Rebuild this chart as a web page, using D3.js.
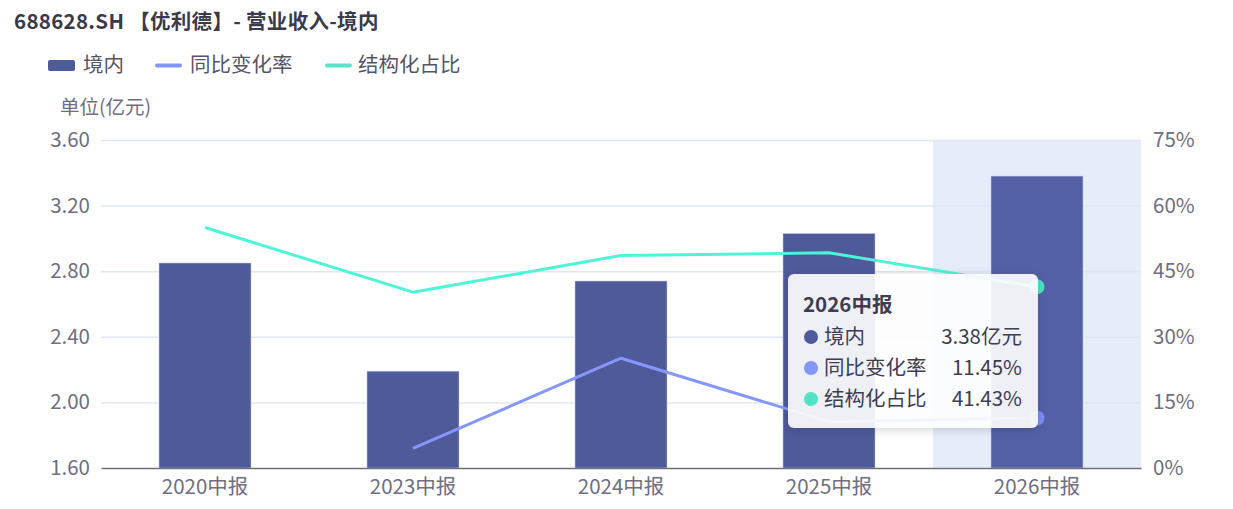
<!DOCTYPE html>
<html><head><meta charset="utf-8">
<script src="https://cdn.jsdelivr.net/npm/d3@7"></script>
<style>
html,body{margin:0;padding:0;background:#fff;}
svg{display:block;font-family:"Noto Sans CJK SC","Noto Sans",sans-serif;}
</style></head>
<body>
<svg id="c" width="1233" height="509"></svg>
<script>
const title = "688628.SH 【优利德】- 营业收入-境内";
const categories = ["2020中报","2023中报","2024中报","2025中报","2026中报"];
const revenue = [2.85, 2.19, 2.74, 3.03, 3.38];
const yoy = [null, 4.5, 25.1, 10.6, 11.45];
const share = [55.0, 40.2, 48.6, 49.2, 41.43];
const leftTicks = [1.6, 2.0, 2.4, 2.8, 3.2, 3.6];
const rightTicks = [0, 15, 30, 45, 60, 75];
const seriesNames = ["境内","同比变化率","结构化占比"];
const unitLabel = "单位(亿元)";
const hoverIndex = 4;

const W = 1233, H = 509;
const m = {left:101, right:92, top:140, bottom:41};
const svg = d3.select("#c");
const C = {bar:"#4e5a9a", barHi:"#5360a6", yoy:"#8598fa", share:"#4ff3d7",
  grid:"#e0e6f1", axis:"#6e7079", text:"#6e6e80", title:"#3a3a4a"};
const FS = 20.5;

const x = d3.scaleBand().domain(categories).range([m.left, W-m.right]).paddingInner(0).paddingOuter(0);
const yL = d3.scaleLinear().domain([leftTicks[0], leftTicks[leftTicks.length-1]]).range([H-m.bottom, m.top]);
const yR = d3.scaleLinear().domain([rightTicks[0], rightTicks[rightTicks.length-1]]).range([H-m.bottom, m.top]);

// title
svg.append("text").attr("x",14).attr("y",29).attr("font-size",20.5).attr("font-weight","bold")
  .attr("letter-spacing",0.3).attr("fill",C.title).text(title);

// legend
const lg = svg.append("g").attr("font-size",FS).attr("fill","#555566");
lg.append("rect").attr("x",48).attr("y",60).attr("width",27).attr("height",11).attr("rx",2).attr("fill",C.bar);
lg.append("text").attr("x",83).attr("y",65).attr("dy","0.35em").text(seriesNames[0]);
lg.append("line").attr("x1",157).attr("x2",180).attr("y1",65.5).attr("y2",65.5).attr("stroke","#8196f8").attr("stroke-width",4).attr("stroke-linecap","round");
lg.append("text").attr("x",190).attr("y",65).attr("dy","0.35em").text(seriesNames[1]);
lg.append("line").attr("x1",327).attr("x2",350).attr("y1",65.5).attr("y2",65.5).attr("stroke","#5ae2ca").attr("stroke-width",4).attr("stroke-linecap","round");
lg.append("text").attr("x",358).attr("y",65).attr("dy","0.35em").text(seriesNames[2]);

// unit label
svg.append("text").attr("x",60).attr("y",107).attr("dy","0.35em").attr("font-size",19.5).attr("fill",C.text).text(unitLabel);

// hover band
svg.append("rect").attr("x",x(categories[hoverIndex])).attr("y",m.top)
  .attr("width",x.bandwidth()).attr("height",H-m.bottom-m.top).attr("fill","#e5ecfa");

// grid
svg.append("g").selectAll("line").data(leftTicks.slice(1)).join("line")
  .attr("x1",m.left).attr("x2",W-m.right).attr("y1",d=>yL(d)+0.5).attr("y2",d=>yL(d)+0.5)
  .attr("stroke",C.grid).attr("stroke-width",1.5);

// left axis
const axL = d3.axisLeft(yL).tickValues(leftTicks).tickFormat(d3.format(".2f")).tickSize(0).tickPadding(11);
const gL = svg.append("g").attr("transform",`translate(${m.left},0)`).call(axL);
gL.select(".domain").remove();
gL.selectAll("text").attr("font-size",FS).attr("fill",C.text).attr("font-family","'Noto Sans CJK SC',sans-serif");

// right axis
const axR = d3.axisRight(yR).tickValues(rightTicks).tickFormat(d=>d+"%").tickSize(0).tickPadding(12);
const gR = svg.append("g").attr("transform",`translate(${W-m.right},0)`).call(axR);
gR.select(".domain").remove();
gR.selectAll("text").attr("font-size",FS).attr("fill",C.text).attr("font-family","'Noto Sans CJK SC',sans-serif");

// bars
const bw = 92;
svg.append("g").selectAll("rect").data(revenue).join("rect")
  .attr("x",(d,i)=>x(categories[i])+x.bandwidth()/2-bw/2)
  .attr("y",d=>yL(d)).attr("width",bw).attr("height",d=>yL(leftTicks[0])-yL(d))
  .attr("fill",(d,i)=>i===hoverIndex?C.barHi:C.bar)
  .attr("stroke","rgba(200,206,235,0.55)").attr("stroke-width",1);

// bottom axis
const axB = d3.axisBottom(x).tickSize(0).tickPadding(11);
const gB = svg.append("g").attr("transform",`translate(0,${H-m.bottom})`).call(axB);
gB.select(".domain").attr("stroke",C.axis).attr("stroke-width",1.5);
gB.selectAll("text").attr("font-size",FS).attr("fill",C.text).attr("font-family","'Noto Sans CJK SC',sans-serif");

// lines
const cx = i => x(categories[i]) + x.bandwidth()/2;
const yoyPts = yoy.map((v,i)=>v==null?null:[cx(i), yR(v)]).filter(p=>p);
const sharePts = share.map((v,i)=>[cx(i), yR(v)]);
svg.append("path").attr("d",d3.line()(yoyPts)).attr("fill","none").attr("stroke",C.yoy).attr("stroke-width",3).attr("stroke-linejoin","round");
svg.append("path").attr("d",d3.line()(sharePts)).attr("fill","none").attr("stroke",C.share).attr("stroke-width",3).attr("stroke-linejoin","round");

// hover dots
svg.append("circle").attr("cx",cx(hoverIndex)).attr("cy",yR(share[hoverIndex])).attr("r",7.5).attr("fill","#4fe3c6");
svg.append("circle").attr("cx",cx(hoverIndex)).attr("cy",yR(yoy[hoverIndex])).attr("r",7.5).attr("fill","#7b8ff5");

// tooltip
const defs = svg.append("defs");
const f = defs.append("filter").attr("id","sh").attr("x","-20%").attr("y","-20%").attr("width","140%").attr("height","140%");
f.append("feDropShadow").attr("dx",0).attr("dy",2).attr("stdDeviation",5).attr("flood-color","#000").attr("flood-opacity",0.18);
const tt = svg.append("g").attr("transform","translate(788,274)");
tt.append("rect").attr("width",250).attr("height",154).attr("rx",6).attr("fill","rgba(255,255,255,0.9)").attr("filter","url(#sh)");
tt.append("text").attr("x",15).attr("y",31).attr("dy","0.35em").attr("font-size",FS).attr("font-weight","bold").attr("fill","#3d3d52").text(categories[hoverIndex]);
const rows = [
  [seriesNames[0], revenue[hoverIndex].toFixed(2)+"亿元", "#4e5a9a"],
  [seriesNames[1], yoy[hoverIndex].toFixed(2)+"%", "#8196f8"],
  [seriesNames[2], share[hoverIndex].toFixed(2)+"%", "#52e3c6"]
];
rows.forEach((r,i)=>{
  const yy = 63 + i*31;
  tt.append("circle").attr("cx",23).attr("cy",yy).attr("r",7).attr("fill",r[2]);
  tt.append("text").attr("x",36).attr("y",yy).attr("dy","0.35em").attr("font-size",FS).attr("fill","#3d3d52").text(r[0]);
  tt.append("text").attr("x",234).attr("y",yy).attr("dy","0.35em").attr("text-anchor","end").attr("font-size",FS).attr("fill","#3d3d52").text(r[1]);
});
</script>
</body></html>
